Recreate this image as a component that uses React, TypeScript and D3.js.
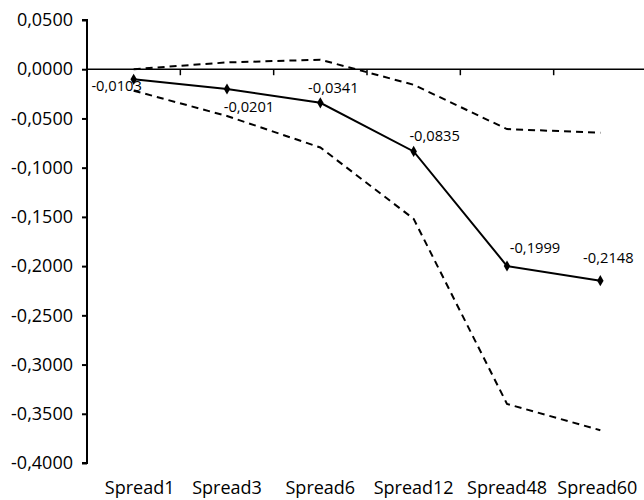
import React, { useEffect, useRef } from 'react';
import * as d3 from 'd3';

const categories = ['Spread1', 'Spread3', 'Spread6', 'Spread12', 'Spread48', 'Spread60'];
const estimate = [-0.0103, -0.0201, -0.0341, -0.0835, -0.1999, -0.2148];
const upperBand = [0.0, 0.0069, 0.0097, -0.0158, -0.0608, -0.0645];
const lowerBand = [-0.0218, -0.0475, -0.0795, -0.152, -0.34, -0.3667];
const yTicks = [0.05, 0, -0.05, -0.1, -0.15, -0.2, -0.25, -0.3, -0.35, -0.4];
// label offsets relative to each point (Excel-style placement)
const labelOffsets: [number, number][] = [[-17, 6], [22, 18], [13, -15], [21, -16], [28, -18], [8, -23]];

const W = 644;
const H = 500;
const FONT = '"Open Sans", sans-serif';

export default function App() {
  const svgRef = useRef<SVGSVGElement>(null);

  useEffect(() => {
    if (!svgRef.current) return;
    const svg = d3.select(svgRef.current);
    svg.selectAll('*').remove();

    const left = 87;
    const right = 647;
    const top = 20;
    const bottom = 463;

    const x = d3.scaleBand<string>().domain(categories).range([left, right]);
    const cx = (i: number) => (x(categories[i]) as number) + x.bandwidth() / 2;
    const y = d3.scaleLinear().domain([-0.4, 0.05]).range([bottom, top]);

    const fmt = (v: number) => d3.format('.4f')(v).replace('.', ',').replace('−', '-');

    // y axis
    const yAxis = d3.axisLeft(y).tickValues(yTicks).tickSize(5).tickPadding(9).tickFormat((d) => fmt(Number(d)));
    const gy = svg.append('g').attr('transform', `translate(${left},0)`).call(yAxis);
    gy.select('.domain').attr('stroke', '#000').attr('stroke-width', 2).attr('d', `M-5,${top}H0V${bottom}H-5`);
    gy.selectAll('.tick line').attr('stroke', '#000').attr('stroke-width', 2);
    gy.selectAll('.tick text')
      .attr('fill', '#000')
      .style('font-family', FONT)
      .style('font-size', '18px');

    // x axis along zero line
    const boundaries = categories.map((c) => x(c) as number).concat([right]);
    svg.append('line')
      .attr('x1', left).attr('x2', W)
      .attr('y1', y(0)).attr('y2', y(0))
      .attr('stroke', '#000').attr('stroke-width', 1.5);
    svg.append('g').selectAll('line')
      .data(boundaries.slice(1))
      .join('line')
      .attr('x1', (d) => d).attr('x2', (d) => d)
      .attr('y1', y(0)).attr('y2', y(0) + 6)
      .attr('stroke', '#000').attr('stroke-width', 1.5);

    // category labels at bottom
    svg.append('g').selectAll('text')
      .data(categories)
      .join('text')
      .attr('x', (d, i) => cx(i) + (i === 0 ? 6 : 0) - (i === 5 ? 3 : 0))
      .attr('y', 494)
      .attr('text-anchor', 'middle')
      .style('font-family', FONT)
      .style('font-size', '18px')
      .text((d) => d);

    const line = d3.line<number>().x((d, i) => cx(i)).y((d) => y(d));

    [upperBand, lowerBand].forEach((band) => {
      svg.append('path')
        .datum(band)
        .attr('fill', 'none')
        .attr('stroke', '#000')
        .attr('stroke-width', 2)
        .attr('stroke-dasharray', '7,5')
        .attr('d', line);
    });

    svg.append('path')
      .datum(estimate)
      .attr('fill', 'none')
      .attr('stroke', '#000')
      .attr('stroke-width', 2)
      .attr('d', line);

    const diamond = d3.symbol().type(d3.symbolDiamond).size(36);
    svg.append('g').selectAll('path')
      .data(estimate)
      .join('path')
      .attr('transform', (d, i) => `translate(${cx(i)},${y(d)})`)
      .attr('d', diamond)
      .attr('fill', '#000');

    svg.append('g').selectAll('text')
      .data(estimate)
      .join('text')
      .attr('x', (d, i) => cx(i) + labelOffsets[i][0])
      .attr('y', (d, i) => y(d) + labelOffsets[i][1])
      .attr('dy', '0.35em')
      .attr('text-anchor', 'middle')
      .style('font-family', FONT)
      .style('font-size', '14.7px')
      .text((d) => fmt(d));
  }, []);

  return (
    <svg
      ref={svgRef}
      width={W}
      height={H}
      viewBox={`0 0 ${W} ${H}`}
      style={{ position: 'absolute', left: 0, top: 0, background: '#fff' }}
    />
  );
}
